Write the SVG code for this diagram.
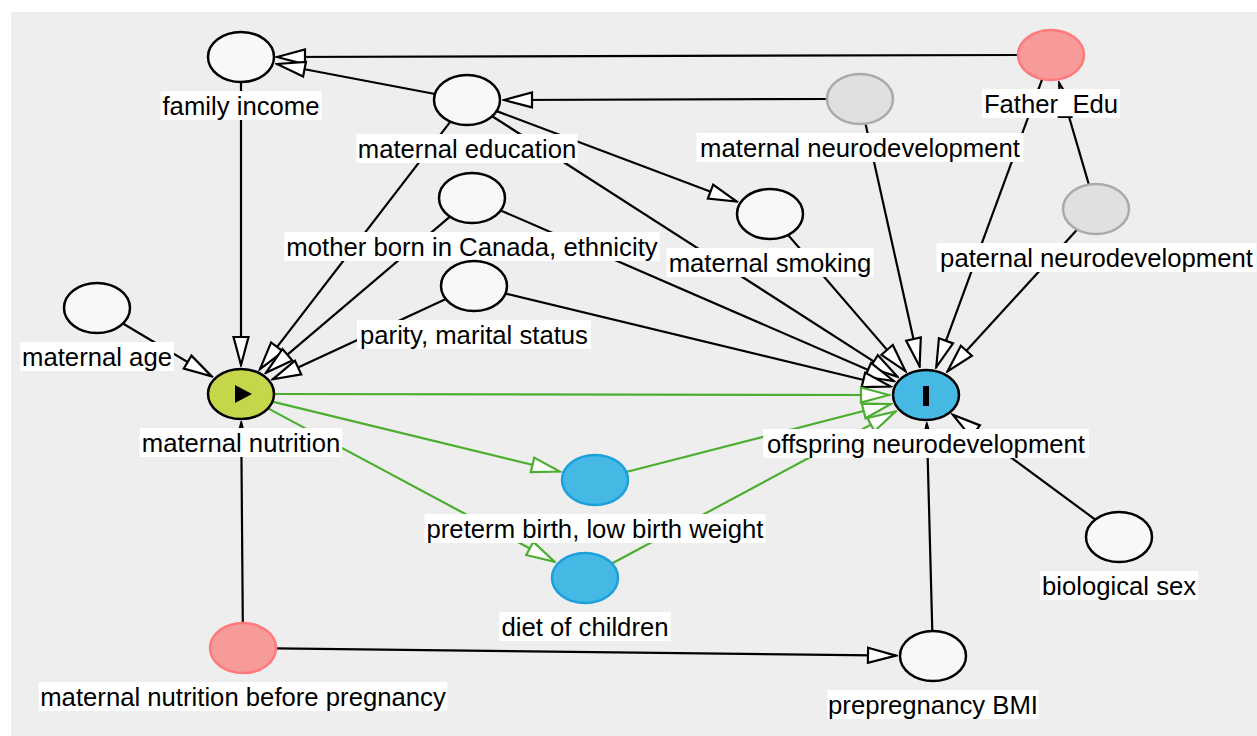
<svg xmlns="http://www.w3.org/2000/svg" width="1257" height="736" viewBox="0 0 1257 736">
<defs>
<style>
.e{fill:none;stroke:#000;stroke-width:2.2}
.g{fill:none;stroke:#4cae30;stroke-width:2.2}
.n{fill:#f8f8f8;stroke:#000;stroke-width:2.5}
.lat{fill:#e0e0e0;stroke:#aaa;stroke-width:2.5}
.red{fill:#f79a9a;stroke:#ff7b7b;stroke-width:2.5}
.med{fill:#46b8e4;stroke:#1aa0dc;stroke-width:2.5}
.out{fill:#46b8e4;stroke:#000;stroke-width:2.5}
.exp{fill:#c6d64a;stroke:#000;stroke-width:2.5}
.lb{fill:#fff}
text{font-family:"Liberation Sans",Arial,sans-serif;font-size:25.7px;fill:#000;text-anchor:middle}
</style>
<marker id="ah" markerUnits="userSpaceOnUse" markerWidth="32" markerHeight="20" refX="28" refY="9" orient="auto" viewBox="-2 -1 32 20">
<path d="M0,1.5 L28,9 L0,16.5 Z" fill="#fff" stroke="#000" stroke-width="2.2"/>
</marker>
<marker id="ahg" markerUnits="userSpaceOnUse" markerWidth="32" markerHeight="20" refX="28" refY="9" orient="auto" viewBox="-2 -1 32 20">
<path d="M0,1.5 L28,9 L0,16.5 Z" fill="#fff" stroke="#4cae30" stroke-width="2.2"/>
</marker>
</defs>
<rect x="0" y="0" width="1257" height="736" fill="#fff"/>
<rect x="11" y="12" width="1246" height="724" fill="#eeeeee"/>
<g id="connectors">
<line class="e" x1="1018" y1="55" x2="277" y2="57" marker-end="url(#ah)"/>
<line class="e" x1="435" y1="94" x2="277" y2="64" marker-end="url(#ah)"/>
<line class="e" x1="827" y1="99" x2="504" y2="100" marker-end="url(#ah)"/>
<line class="e" x1="496.6" y1="111.1" x2="736.7" y2="201.5" marker-end="url(#ah)"/>
<line class="e" x1="492.2" y1="116.2" x2="897.4" y2="376.6" marker-end="url(#ah)"/>
<line class="e" x1="450.4" y1="121.6" x2="260" y2="369.2" marker-end="url(#ah)"/>
<line class="e" x1="450" y1="216.6" x2="266" y2="372.8" marker-end="url(#ah)"/>
<line class="e" x1="500.6" y1="210.4" x2="893.7" y2="381" marker-end="url(#ah)"/>
<line class="e" x1="445.9" y1="299" x2="272.7" y2="379.3" marker-end="url(#ah)"/>
<line class="e" x1="505.5" y1="293.6" x2="890.6" y2="386.5" marker-end="url(#ah)"/>
<line class="e" x1="241" y1="82" x2="241" y2="365" marker-end="url(#ah)"/>
<line class="e" x1="122.9" y1="323.5" x2="211.7" y2="376.4" marker-end="url(#ah)"/>
<line class="e" x1="788" y1="234.9" x2="905.4" y2="371.1" marker-end="url(#ah)"/>
<line class="e" x1="865.5" y1="123.7" x2="919.6" y2="366.4" marker-end="url(#ah)"/>
<line class="e" x1="1042.2" y1="79.1" x2="936.3" y2="367.1" marker-end="url(#ah)"/>
<line class="e" x1="1088.9" y1="184.6" x2="1059.2" y2="83.2" marker-end="url(#ah)"/>
<line class="e" x1="1077.2" y1="229.6" x2="947.5" y2="371.4" marker-end="url(#ah)"/>
<line class="e" x1="1095.3" y1="519.6" x2="952.9" y2="414.8" marker-end="url(#ah)"/>
<line class="e" x1="932.3" y1="631" x2="926.8" y2="424" marker-end="url(#ah)"/>
<line class="e" x1="242.8" y1="623" x2="241.2" y2="423" marker-end="url(#ah)"/>
<line class="e" x1="276" y1="648.4" x2="896" y2="655.6" marker-end="url(#ah)"/>
<line class="g" x1="274" y1="394" x2="889" y2="395" marker-end="url(#ahg)"/>
<line class="g" x1="272.4" y1="401.6" x2="559.7" y2="471.5" marker-end="url(#ahg)"/>
<line class="g" x1="268" y1="408.4" x2="554.5" y2="561.7" marker-end="url(#ahg)"/>
<line class="g" x1="626.3" y1="472" x2="890.8" y2="404" marker-end="url(#ahg)"/>
<line class="g" x1="611.9" y1="563.5" x2="895.6" y2="411.4" marker-end="url(#ahg)"/>
</g>
<g id="family_income">
<ellipse class="n" cx="241" cy="57" rx="33" ry="25"/>
<rect class="lb" x="160.5" y="91" width="161" height="29"/>
<text x="241" y="115">family income</text>
</g>
<g id="maternal_education">
<ellipse class="n" cx="467" cy="100" rx="33" ry="25"/>
<rect class="lb" x="356.4" y="134" width="221.3" height="29"/>
<text x="467" y="158">maternal education</text>
</g>
<g id="mother_born_in_Canada">
<ellipse class="n" cx="472" cy="198" rx="33" ry="25"/>
<rect class="lb" x="284.3" y="232" width="375.4" height="29"/>
<text x="472" y="256">mother born in Canada, ethnicity</text>
</g>
<g id="maternal_smoking">
<ellipse class="n" cx="770" cy="214" rx="33" ry="25"/>
<rect class="lb" x="666.6" y="248" width="206.8" height="29"/>
<text x="770" y="272">maternal smoking</text>
</g>
<g id="maternal_neurodevelopment">
<ellipse class="lat" cx="860" cy="99" rx="33" ry="25"/>
<rect class="lb" x="696.6" y="133" width="326.9" height="29"/>
<text x="860" y="157">maternal neurodevelopment</text>
</g>
<g id="Father_Edu">
<ellipse class="red" cx="1051" cy="55" rx="33" ry="25"/>
<rect class="lb" x="981.9" y="89" width="138.3" height="29"/>
<text x="1051" y="113">Father_Edu</text>
</g>
<g id="paternal_neurodevelopment">
<ellipse class="lat" cx="1096" cy="209" rx="33" ry="25"/>
<rect class="lb" x="936.6" y="243" width="319.8" height="29"/>
<text x="1096.5" y="267">paternal neurodevelopment</text>
</g>
<g id="maternal_age">
<ellipse class="n" cx="97" cy="308" rx="33" ry="25"/>
<rect class="lb" x="20" y="342" width="154" height="29"/>
<text x="97" y="366">maternal age</text>
</g>
<g id="parity_marital_status">
<ellipse class="n" cx="474" cy="286" rx="33" ry="25"/>
<rect class="lb" x="357" y="320" width="233.9" height="29"/>
<text x="474" y="344">parity, marital status</text>
</g>
<g id="maternal_nutrition">
<ellipse class="exp" cx="241" cy="394" rx="33" ry="25"/>
<path d="M235,385 L252,394 L235,403 Z" fill="#000"/>
<rect class="lb" x="139.7" y="428" width="202.5" height="29"/>
<text x="241" y="452">maternal nutrition</text>
</g>
<g id="offspring_neurodevelopment">
<ellipse class="out" cx="926" cy="395" rx="33" ry="25"/>
<rect x="923" y="386" width="6" height="20" fill="#000"/>
<rect class="lb" x="763.2" y="429" width="325.5" height="29"/>
<text x="926" y="453">offspring neurodevelopment</text>
</g>
<g id="preterm_birth">
<ellipse class="med" cx="595" cy="480" rx="33" ry="25"/>
<rect class="lb" x="424.5" y="514" width="341.1" height="29"/>
<text x="595" y="538">preterm birth, low birth weight</text>
</g>
<g id="diet_of_children">
<ellipse class="med" cx="585" cy="578" rx="33" ry="25"/>
<rect class="lb" x="499.5" y="612" width="171.1" height="29"/>
<text x="585" y="636">diet of children</text>
</g>
<g id="maternal_nutrition_before_pregnancy">
<ellipse class="red" cx="243" cy="648" rx="33" ry="25"/>
<rect class="lb" x="38.7" y="682" width="408.7" height="29"/>
<text x="243" y="706">maternal nutrition before pregnancy</text>
</g>
<g id="prepregnancy_BMI">
<ellipse class="n" cx="933" cy="656" rx="33" ry="25"/>
<rect class="lb" x="827.3" y="690" width="211.5" height="29"/>
<text x="933" y="714">prepregnancy BMI</text>
</g>
<g id="biological_sex">
<ellipse class="n" cx="1119" cy="537" rx="33" ry="25"/>
<rect class="lb" x="1039.9" y="571" width="158.3" height="29"/>
<text x="1119" y="595">biological sex</text>
</g>
</svg>
